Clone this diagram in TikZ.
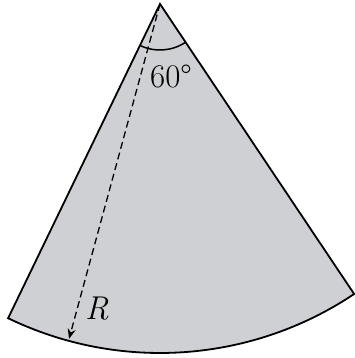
\documentclass[tikz,border=0pt]{standalone}
\usepackage{fontspec}
\usetikzlibrary{arrows.meta,calc}
\definecolor{sectorgray}{RGB}{206,208,211}
\tikzset{
  edge/.style={line width=1.8pt, line join=miter},
  radius line/.style={line width=1.3pt, dash pattern=on 7pt off 4pt, -{Stealth[length=10pt,width=8pt]}},
  lbl/.style={font=\fontsize{33}{36}\selectfont, inner sep=0pt}
}
\begin{document}
\begin{tikzpicture}[x=1pt,y=1pt]
\useasboundingbox (0,0) rectangle (355,-358);
\coordinate (O) at (160,-4);
\coordinate (A) at ($(O)+(244.2:349)$);
\coordinate (B) at ($(O)+(303.8:349)$);
\coordinate (T) at ($(O)+(254.8:347)$);
\fill[sectorgray] (O) -- (A) arc[start angle=244.2, end angle=303.8, radius=349] -- cycle;
\draw[edge] (O) -- (A) arc[start angle=244.2, end angle=303.8, radius=349] -- cycle;
\draw[line width=1.5pt] ($(O)+(244.2:46)$) arc[start angle=244.2, end angle=303.8, radius=46];
\draw[radius line] (O) -- (T);
\node[lbl] (ang) at (171,-76) {60°};
\node[lbl] (r) at (97,-309) {\itshape R};
\end{tikzpicture}
\end{document}
